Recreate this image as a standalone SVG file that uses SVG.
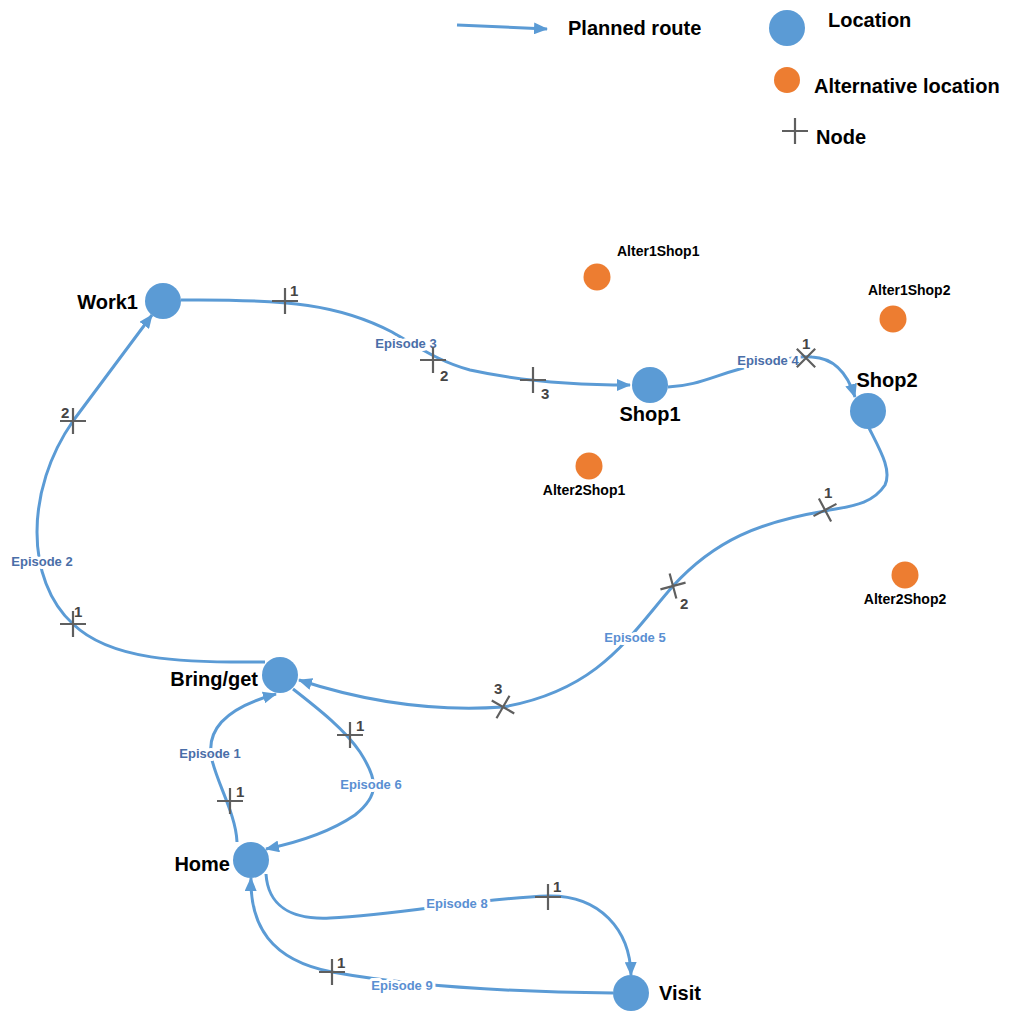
<svg xmlns="http://www.w3.org/2000/svg" width="1017" height="1011" viewBox="0 0 1017 1011">
<style>
  .route{fill:none;stroke:#5b9bd5;stroke-width:3;}
  .arr{marker-end:url(#arr);}
  .loc{fill:#5b9bd5;}
  .alt{fill:#ed7d31;}
  .cross{stroke:#5f5f5f;stroke-width:2.2;fill:none;}
  .nlabel{font-family:"Liberation Sans",Arial,sans-serif;font-weight:bold;font-size:20px;fill:#000;}
  .alabel{font-family:"Liberation Sans",Arial,sans-serif;font-weight:bold;font-size:14px;fill:#000;}
  .ep{font-family:"Liberation Sans",Arial,sans-serif;font-weight:bold;font-size:13px;text-anchor:middle;paint-order:stroke;stroke:#fff;stroke-width:6;stroke-linejoin:round;}
  .epd{fill:#4a6ea8;}
  .epl{fill:#5a8fd2;}
  .num{font-family:"Liberation Sans",Arial,sans-serif;font-weight:bold;font-size:15px;fill:#454545;}
</style>
<defs>
  <marker id="arr" viewBox="0 0 14 12" refX="13" refY="6" markerWidth="14" markerHeight="12" markerUnits="userSpaceOnUse" orient="auto">
    <path d="M0,0 L14,6 L0,12 z" fill="#5b9bd5"/>
  </marker>
  <path id="x" d="M-13,0H13M0,-13V13"/>
</defs>
<rect width="1017" height="1011" fill="#fff"/>

<g id="legend">
  <path class="route arr" d="M457,25 L547,29"/>
  <text class="nlabel" x="568" y="35">Planned route</text>
  <circle class="loc" cx="787" cy="28" r="18"/>
  <text class="nlabel" x="828" y="27">Location</text>
  <circle class="alt" cx="787" cy="80" r="13"/>
  <text class="nlabel" x="814" y="93">Alternative location</text>
  <use href="#x" class="cross" transform="translate(795,131)"/>
  <text class="nlabel" x="816" y="144">Node</text>
</g>

<g id="connectors">
  <path id="ep2" class="route arr" d="M265,662 C180,663 110,660 73,624 C25,580 25,490 73,421 L152,315"/>
  <path id="ep3" class="route arr" d="M181,300 C290,299 340,305 392,332 C420,348 440,362 470,370 C520,381 580,385 630,385"/>
  <path id="ep4" class="route arr" d="M668,387 C700,386 720,372 760,364 C790,358 800,356 812,357 C835,358 848,375 855,397"/>
  <path id="ep5" class="route arr" d="M869,428 C880,450 892,470 885,485 C872,505 850,506 825,511 C760,522 715,540 673,586 C630,635 600,690 503,707 C430,712 360,700 299,680"/>
  <path id="ep1" class="route arr" d="M237,842 C236,815 218,785 212,760 C205,730 225,708 276,694"/>
  <path id="ep6" class="route arr" d="M293,689 C320,710 345,730 360,752 C378,780 380,795 355,815 C330,832 300,842 266,849"/>
  <path id="ep8" class="route arr" d="M266,874 C268,905 290,920 330,918 C400,915 480,898 548,896 C600,895 630,930 631,975"/>
  <path id="ep9" class="route arr" d="M613,993 C520,992 420,988 332,972 C270,960 250,925 251,878"/>

  <text class="ep epd" x="42" y="566">Episode 2</text>
  <text class="ep epd" x="406" y="348">Episode 3</text>
  <text class="ep epd" x="768" y="365">Episode 4</text>
  <text class="ep epl" x="635" y="642">Episode 5</text>
  <text class="ep epd" x="210" y="758">Episode 1</text>
  <text class="ep epl" x="371" y="789">Episode 6</text>
  <text class="ep epl" x="457" y="908">Episode 8</text>
  <text class="ep epl" x="402" y="990">Episode 9</text>
</g>

<g id="nodes-crosses">
  <use href="#x" class="cross" transform="translate(73,421)"/>
  <text class="num" x="61" y="418">2</text>
  <use href="#x" class="cross" transform="translate(73,624)"/>
  <text class="num" x="74" y="617">1</text>
  <use href="#x" class="cross" transform="translate(285,301)"/>
  <text class="num" x="290" y="296">1</text>
  <use href="#x" class="cross" transform="translate(433,360)"/>
  <text class="num" x="440" y="381">2</text>
  <use href="#x" class="cross" transform="translate(533,380)"/>
  <text class="num" x="541" y="399">3</text>
  <use href="#x" class="cross" transform="translate(806,358) rotate(45)"/>
  <text class="num" x="802" y="349">1</text>
  <use href="#x" class="cross" transform="translate(825,510) rotate(-28)"/>
  <text class="num" x="824" y="498">1</text>
  <use href="#x" class="cross" transform="translate(673,586) rotate(-15)"/>
  <text class="num" x="680" y="609">2</text>
  <use href="#x" class="cross" transform="translate(503,707) rotate(30)"/>
  <text class="num" x="494" y="694">3</text>
  <use href="#x" class="cross" transform="translate(350,735)"/>
  <text class="num" x="356" y="731">1</text>
  <use href="#x" class="cross" transform="translate(230,801)"/>
  <text class="num" x="236" y="797">1</text>
  <use href="#x" class="cross" transform="translate(548,897)"/>
  <text class="num" x="553" y="892">1</text>
  <use href="#x" class="cross" transform="translate(332,972)"/>
  <text class="num" x="337" y="968">1</text>
</g>

<g id="work1"><circle class="loc" cx="163" cy="301" r="18"/><text class="nlabel" x="138" y="309" text-anchor="end">Work1</text></g>
<g id="shop1"><circle class="loc" cx="650" cy="385" r="18"/><text class="nlabel" x="650" y="421" text-anchor="middle">Shop1</text></g>
<g id="shop2"><circle class="loc" cx="868" cy="411" r="18"/><text class="nlabel" x="887" y="387" text-anchor="middle">Shop2</text></g>
<g id="bringget"><circle class="loc" cx="280" cy="675" r="18"/><text class="nlabel" x="258" y="686" text-anchor="end">Bring/get</text></g>
<g id="home"><circle class="loc" cx="251" cy="860" r="18"/><text class="nlabel" x="230" y="871" text-anchor="end">Home</text></g>
<g id="visit"><circle class="loc" cx="631" cy="993" r="18"/><text class="nlabel" x="659" y="1000">Visit</text></g>

<g id="alter1shop1"><circle class="alt" cx="597" cy="277" r="13.5"/><text class="alabel" x="617" y="256">Alter1Shop1</text></g>
<g id="alter1shop2"><circle class="alt" cx="893" cy="319" r="13.5"/><text class="alabel" x="868" y="295">Alter1Shop2</text></g>
<g id="alter2shop1"><circle class="alt" cx="589" cy="466" r="13.5"/><text class="alabel" x="584" y="495" text-anchor="middle">Alter2Shop1</text></g>
<g id="alter2shop2"><circle class="alt" cx="905" cy="575" r="13.5"/><text class="alabel" x="905" y="604" text-anchor="middle">Alter2Shop2</text></g>
</svg>
